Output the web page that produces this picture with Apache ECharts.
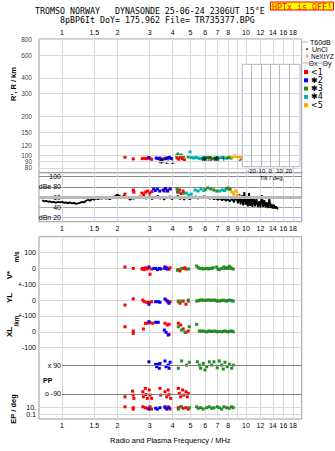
<!DOCTYPE html>
<html><head><meta charset="utf-8">
<script src="https://cdn.jsdelivr.net/npm/echarts@6/dist/echarts.min.js"></script>
<style>html,body{margin:0;padding:0;background:#fff}#c{width:335px;height:451px}</style>
</head><body><div id="c"></div>
<script>
// ---------- axes / ticks ----------
const freqRange = [0.75, 20.1];
const freqTicks = [1, 1.5, 2, 3, 4, 5, 6, 7, 8, 9, 10, 12, 14, 16, 18];
const freqLabelsOuter = [1, 1.5, 2, 3, 4, 5, 6, 7, 8, 10, 12, 14, 16, 18];
const freqLabelsMid = [1, 1.5, 2, 3, 4, 5, 6, 7, 8, 9, 10, 12, 14, 16, 18];
const heightRange = [73.1, 800];
const heightTicks = [80, 90, 100, 120, 150, 200, 300, 400, 600, 800];
const dbRange = [12.2, 107.8];
const dbTicks = [20, 40, 60, 80, 100];
const dbTickLabels = ['dBn 20', '40', '60', 'dBe 80', '100'];
const tiltTicks = [-20, -10, 0, 10, 20];
const rowTickLabels = ['0.1', '10.', '-100', '0', '+-100', '0', '+-100', '0', '100'];
const classNames = ['<1', '\u27312', '\u27313', '\u27314', '<5'];

// ---------- virtual heights (R', km) per class ----------
const heightRed = [[2.20,96.5],[2.44,93.5],[2.73,94],[2.80,94.5],[2.87,94],[2.94,95],[3.01,94],[3.07,93],[3.60,94],[3.70,95],[4.22,95],[4.32,93],[4.40,97],[4.52,94],[4.63,92]];
const heightBlue = [[2.97,96],[3.25,95],[3.32,94],[3.40,95],[3.48,93],[3.66,94],[3.75,95],[3.84,96],[3.92,94]];
const heightGreen = [[4.20,99],[4.27,102],[4.45,100],[4.58,98],[4.85,97],[6.05,95],[6.2,96],[6.4,95],[6.6,94],[6.8,95],[7.0,96],[7.9,95],[8.1,96],[8.3,95]];
const heightTeal = [[4.97,106],[5.05,96],[5.20,95],[5.35,96],[5.50,95],[5.65,94],[5.80,95],[5.95,96],[7.15,95],[7.4,96],[7.65,95]];
const heightOrange = [[8.40,97],[8.55,98],[8.70,99],[8.90,98],[9.10,97],[9.30,98],[9.50,96]];
const modeLabelText = ['\u273121', '\u27314', '\u27313', '<5'];
const modeLabelFreq = [3.33, 5.69, 6.62, 9.05];
const modeLabelHeight = [90, 92, 92, 91];

// ---------- amplitude (dB) ----------
const noiseFreq = [0.78,0.80,0.82,0.84,0.86,0.88,0.90,0.93,0.95,0.98,1.0,1.03,1.05,1.08,1.10,1.13,1.16,1.19,1.22,1.25,1.29,1.32,1.35,1.39,1.42,1.46,1.49,1.53,1.57,1.61,1.65,1.69,1.73,1.78,1.82,1.87,1.92,1.96,2.01,2.06,2.12,2.17,2.23,2.29,2.34,2.40,2.46,2.52,2.59,2.65,2.72,2.79,2.86,2.93,3.01,3.08,3.16,3.24,3.32,3.41,3.50,3.59,3.68,3.77,3.87,3.96,4.06,4.17,4.27,4.38,4.49,4.61,4.72,4.84,4.96,5.09,5.22,5.35,5.48,5.62,5.77,5.91,6.06,6.22,6.37,6.54,6.70,6.87,7.05,7.23,7.41,7.60,7.79,7.99,8.19,8.40,8.61,8.83,9.05,9.2,9.35,9.5,9.65,9.8,9.95,10.1,10.25,10.4,10.55,10.7,10.85,11.0,11.2,11.4,11.6,11.8,12.0,12.2,12.4,12.6,12.8,13.0,13.2,13.4,13.6,13.8,14.0,14.2,14.4,14.6,14.8,15.0];
const noiseDb = [54,52,53,51,52,50,51,49,51,50,51,49,50,48,50,48,49,47,48,49,51,50,53,55,53,57,55,58,56,58,57,59,57,58,56,59,61,63,65,62,60,63,58,60,55,58,57,60,58,62,59,63,57,60,62,56,60,58,63,57,61,55,60,58,62,56,60,59,63,56,61,55,60,58,56,60,58,62,57,60,59,62,58,60,57,59,56,58,55,58,54,57,53,56,52,58,50,62,48,66,46,64,44,70,45,60,42,68,43,56,41,62,42,58,41,52,40,64,41,54,40,50,39,58,39,47,38,45,38,42,38,38];
const ampRed = [[2.20,66],[2.44,74],[2.46,70],[2.72,68],[2.78,66],[2.85,70],[2.92,72],[3.0,68],[3.08,71],[3.6,72],[3.75,74],[4.25,70],[4.35,74],[4.45,67],[4.55,72]];
const ampBlue = [[3.15,76],[3.22,73],[3.30,76],[3.40,72],[3.55,74],[3.65,77],[3.75,72],[3.88,76]];
const ampGreen = [[4.22,76],[4.30,70],[4.6,68],[6.0,75],[6.2,78],[6.45,76],[6.7,74],[6.95,72],[7.8,76],[8.0,78],[8.2,75]];
const ampTeal = [[4.75,68],[4.9,64],[5.05,66],[5.3,74],[5.5,72],[5.7,76],[5.9,73],[7.2,72],[7.45,74],[7.65,73]];
const ampOrange = [[8.40,70],[8.6,66],[8.8,72],[9.0,64],[9.2,62],[9.4,60]];

// ---------- lower panel rows ----------
const vstarRed = [[2.20,9],[2.44,0],[2.72,-4],[2.75,0],[2.79,-8],[2.84,4],[2.89,-4],[2.93,0],[3.01,-37],[3.07,-4],[3.60,0],[3.71,4],[3.82,-4],[3.87,4],[4.29,-8],[4.38,-16],[4.53,0],[4.66,4],[4.72,-4]];
const vstarBlue = [[2.97,9],[3.16,0],[3.23,0],[3.30,-8],[3.38,0],[3.45,-4],[3.63,9],[3.68,0],[3.74,-4]];
const vstarGreen = [[4.25,-12],[4.47,0],[4.88,-4],[5.40,15],[5.51,4],[5.62,0],[5.74,0],[5.86,-4],[5.99,0],[6.12,0],[6.25,-4],[6.37,0],[6.51,0],[6.64,4],[6.93,9],[7.05,-4],[7.16,-8],[7.38,0],[7.59,9],[7.69,0],[7.86,4],[8.01,0],[8.12,13],[8.25,4],[8.36,0],[8.53,-4]];
const ylRed = [[2.20,-31],[2.44,8],[2.75,0],[2.80,-10],[2.89,-14],[2.98,-14],[3.07,-10],[3.68,0],[3.78,-14],[3.87,-10],[4.29,-10],[4.38,-20],[4.56,-6],[4.72,-26],[4.86,-6]];
const ylBlue = [[2.97,-26],[3.23,-10],[3.34,-10],[3.41,-14],[3.63,7],[3.74,-6],[3.82,-20]];
const ylGreen = [[4.29,-6],[4.47,-6],[4.86,0],[5.40,-6],[5.51,-4],[5.62,0],[5.74,0],[5.86,0],[5.99,-2],[6.12,0],[6.25,0],[6.37,0],[6.51,-2],[6.64,0],[6.80,0],[6.93,-6],[7.05,-4],[7.22,-6],[7.38,-2],[7.53,0],[7.69,-4],[7.86,-6],[8.01,-2],[8.18,0],[8.36,-4],[8.53,-6]];
const xlRed = [[2.20,32],[2.44,5],[2.44,-10],[2.77,18],[2.84,54],[2.91,54],[3.01,57],[3.11,54],[3.63,54],[3.74,43],[3.82,48],[3.82,-16],[4.29,54],[4.42,43],[4.56,18],[4.72,-3],[4.86,5]];
const xlBlue = [[2.97,64],[3.23,60],[3.34,60],[3.60,11],[3.68,-3],[3.78,-20]];
const xlGreen = [[4.29,32],[4.47,11],[4.66,-3],[4.92,32],[5.40,47],[5.58,5],[5.72,4],[5.86,5],[5.99,2],[6.12,0],[6.25,4],[6.37,5],[6.51,2],[6.70,5],[6.85,3],[6.98,0],[7.15,2],[7.38,0],[7.53,3],[7.69,5],[7.86,2],[8.01,0],[8.18,3],[8.36,5],[8.53,0]];
const ppxBlue = [[2.97,113],[3.23,97],[3.27,82],[3.34,97],[3.38,72],[3.41,103],[3.63,118],[3.68,82],[3.78,92],[3.82,72],[3.87,110]];
const ppxGreen = [[4.29,72],[4.47,118],[4.76,92],[4.92,110],[5.44,113],[5.58,92],[5.67,72],[5.86,103],[5.99,61],[6.12,82],[6.32,113],[6.51,92],[6.70,113],[6.98,75],[7.16,118],[7.38,92],[7.53,67],[7.69,110],[7.91,82],[8.12,97],[8.36,72],[8.53,92]];
const ppoRed = [[2.20,-108],[2.42,-72],[2.44,-97],[2.46,-118],[2.75,-76],[2.77,-108],[2.84,-55],[2.86,-93],[2.91,-118],[2.98,-65],[3.01,-97],[3.07,-118],[3.41,-55],[3.44,-97],[3.63,-76],[3.71,-108],[3.78,-65],[3.82,-93],[3.90,-118],[4.29,-55],[4.34,-86],[4.42,-108],[4.53,-65],[4.60,-97],[4.72,-76],[4.80,-108],[4.86,-86]];
const epRed = [[2.20,12],[2.44,7],[2.44,3],[2.75,12],[2.84,7],[2.91,5],[3.01,12],[3.07,3],[3.63,7],[3.78,12],[3.87,3],[4.29,7],[4.42,12],[4.56,5],[4.72,7],[4.86,3]];
const epBlue = [[2.97,3],[3.23,5],[3.30,3],[3.41,7],[3.63,12],[3.71,3],[3.82,7]];
const epGreen = [[4.29,3],[4.47,12],[4.92,7],[5.40,12],[5.51,5],[5.67,7],[5.86,3],[6.12,7],[6.32,12],[6.51,5],[6.70,7],[6.98,12],[7.16,7],[7.38,3],[7.59,12],[7.86,7],[8.12,5],[8.36,12],[8.53,7]];

// ---------- layout / style ----------
const L = Math.log10;
const X0 = L(freqRange[0]), X1 = L(freqRange[1]);
const COL = {red:'#ff0000', blue:'#0000ff', green:'#228b22', teal:'#00b2b2', orange:'#ffa500'};
const FONT = 'Liberation Sans';
const lab = {fontFamily: FONT, fontSize: 7, color: '#000', showMinLabel: true, showMaxLabel: true};
const GRID = '#d8d8d8', FRAME = '#9a9a9a';
// lower panel: one shared virtual scale, each row has its own base line
const rowBase = {vstar: 900, yl: 700, xl: 500, pp: 198, ep: 25};
const rowTickPos = [-23, 25, 400, 500, 600, 700, 800, 900, 1000];
const epPerDecade = 24;

const fmtFreq = v => String(Math.round(Math.pow(10, v) * 10) / 10);

function freqAxis(gi, pos, labels, extra) {
  return Object.assign({
    type: 'value', gridIndex: gi, position: pos, min: X0, max: X1,
    axisLine: {show: false}, axisTick: {show: false, customValues: freqTicks.map(L)},
    axisLabel: Object.assign({customValues: labels.map(L), formatter: fmtFreq, margin: 3}, lab),
    splitLine: {show: true, lineStyle: {color: GRID, width: 1}}
  }, extra || {});
}

function sc(name, color, data, xi, yi, fy, z) {
  return {
    type: 'scatter', name: name, xAxisIndex: xi, yAxisIndex: yi,
    symbol: 'rect', symbolSize: 3, itemStyle: {color: color, opacity: 1},
    data: data.map(d => [L(d[0]), fy(d[1])]), z: z || 3, silent: true
  };
}
const fH = v => L(v);
const fId = v => v;
const fV = v => rowBase.vstar + v;
const fYL = v => rowBase.yl + v;
const fXL = v => rowBase.xl + v;
const fPP = v => rowBase.pp + v;
const fEP = v => rowBase.ep + (L(v) - 1) * epPerDecade;

const series = [
  // height tick labels and grid lines, placed through the height scale
  {
    type: 'scatter', name: 'heightTicks', xAxisIndex: 0, yAxisIndex: 0, symbolSize: 0, silent: true, clip: false, z: 1,
    data: heightTicks.map(h => ({value: [X0, L(h)], name: String(h)})),
    label: {show: true, position: 'left', distance: 7, formatter: '{b}', fontFamily: FONT, fontSize: 6.5, color: '#000'},
    labelLayout: {hideOverlap: false},
    markLine: {symbol: 'none', silent: true, animation: false, label: {show: false},
      lineStyle: {color: GRID, width: 1, type: 'solid'}, data: heightTicks.map(h => ({yAxis: L(h)}))}
  },
  sc(classNames[0], COL.red, heightRed, 0, 0, fH),
  sc(classNames[1], COL.blue, heightBlue, 0, 0, fH),
  sc(classNames[2], COL.green, heightGreen, 0, 0, fH),
  sc(classNames[3], COL.teal, heightTeal, 0, 0, fH),
  sc(classNames[4], COL.orange, heightOrange, 0, 0, fH),
  {
    type: 'scatter', name: 'modeLabels', xAxisIndex: 0, yAxisIndex: 0, symbolSize: 0, silent: true, z: 4,
    data: modeLabelText.map((t, i) => ({value: [L(modeLabelFreq[i]), L(modeLabelHeight[i])], name: t})),
    label: {show: true, position: 'right', distance: 0, formatter: '{b}', fontFamily: 'DejaVu Sans', fontSize: 8, color: '#000'}
  },
  {
    type: 'line', name: 'amp', xAxisIndex: 1, yAxisIndex: 1, showSymbol: false, silent: true, z: 2,
    lineStyle: {color: '#000', width: 1.8}, animation: false,
    data: noiseFreq.map((f, i) => [L(f), noiseDb[i]]),
    markLine: {symbol: 'none', silent: true, animation: false, label: {show: false},
      lineStyle: {color: '#b8b8b8', width: 3, type: 'solid'}, data: [{yAxis: 60}]}
  },
  sc(classNames[0], COL.red, ampRed, 1, 1, fId),
  sc(classNames[1], COL.blue, ampBlue, 1, 1, fId),
  sc(classNames[2], COL.green, ampGreen, 1, 1, fId),
  sc(classNames[3], COL.teal, ampTeal, 1, 1, fId),
  sc(classNames[4], COL.orange, ampOrange, 1, 1, fId),
  sc(classNames[0], COL.red, vstarRed, 2, 2, fV),
  sc(classNames[1], COL.blue, vstarBlue, 2, 2, fV),
  sc(classNames[2], COL.green, vstarGreen, 2, 2, fV),
  sc(classNames[0], COL.red, ylRed, 2, 2, fYL),
  sc(classNames[1], COL.blue, ylBlue, 2, 2, fYL),
  sc(classNames[2], COL.green, ylGreen, 2, 2, fYL),
  sc(classNames[0], COL.red, xlRed, 2, 2, fXL),
  sc(classNames[1], COL.blue, xlBlue, 2, 2, fXL),
  sc(classNames[2], COL.green, xlGreen, 2, 2, fXL),
  Object.assign(sc(classNames[1], COL.blue, ppxBlue, 2, 2, fPP), {
    markLine: {symbol: 'none', silent: true, animation: false,
      lineStyle: {color: '#808080', width: 1, type: 'solid'},
      label: {show: true, position: 'start', formatter: '{b}', distance: 1, fontFamily: FONT, fontSize: 7, color: '#000'},
      data: [
        [{name: 'x 90', coord: [0, fPP(90)]}, {coord: [X1, fPP(90)]}],
        [{name: 'o -90', coord: [0, fPP(-90)]}, {coord: [X1, fPP(-90)]}]
      ]}
  }),
  sc(classNames[2], COL.green, ppxGreen, 2, 2, fPP),
  sc(classNames[0], COL.red, ppoRed, 2, 2, fPP),
  sc(classNames[0], COL.red, epRed, 2, 2, fEP),
  sc(classNames[1], COL.blue, epBlue, 2, 2, fEP),
  sc(classNames[2], COL.green, epGreen, 2, 2, fEP)
];

const rot = Math.PI / 2;
function txt(x, y, text, size, extra, rotation) {
  return {type: 'text', x: x, y: y, rotation: rotation || 0, silent: true, z: 10,
    style: Object.assign({text: text, fontFamily: FONT, fontSize: size, fill: '#000', align: 'left', verticalAlign: 'middle'}, extra || {})};
}
function seg(x1, y1, x2, y2, color) {
  return {type: 'line', silent: true, z: 10, shape: {x1: x1, y1: y1, x2: x2, y2: y2}, style: {stroke: color, lineWidth: 1}};
}

const option = {
  animation: false,
  backgroundColor: '#fff',
  title: [
    {text: 'TROMSO NORWAY\u00a0\u00a0\u00a0DYNASONDE 25-06-24 2306UT 15\u00b0E', left: 35, top: 7, padding: 0,
      textStyle: {fontFamily: 'DejaVu Sans Mono', fontSize: 8.3, fontWeight: 'normal', color: '#000'}},
    {text: '8pBP6It DoY= 175.962 File= TR735377.BPG', left: 60, top: 15.5, padding: 0,
      textStyle: {fontFamily: 'DejaVu Sans Mono', fontSize: 8.3, fontWeight: 'normal', color: '#000'}},
    {text: 'HPTx is OFF!', right: 1, top: 1.5, padding: [1, 2, 0, 2], backgroundColor: '#ffff00', borderColor: '#ff0000', borderWidth: 1,
      textStyle: {fontFamily: 'DejaVu Sans Mono', fontSize: 8.3, fontWeight: 'normal', color: '#ff0000'}}
  ],
  legend: {
    data: classNames, orient: 'vertical', left: 304, top: 68, padding: 0,
    itemWidth: 4, itemHeight: 4, itemGap: 0.3, icon: 'rect', selectedMode: false,
    textStyle: {fontFamily: 'DejaVu Sans', fontSize: 8, color: '#000', lineHeight: 8, padding: [0, 0, 0, -2]}
  },
  grid: [
    {left: 39, right: 33.3, top: 39, height: 133.7, show: true, borderColor: FRAME, borderWidth: 1},
    {left: 39, right: 33.3, top: 172.7, height: 49, show: true, borderColor: FRAME, borderWidth: 1},
    {left: 39, right: 33.3, top: 236.7, height: 182.3, show: true, borderColor: FRAME, borderWidth: 1},
    {left: 242.3, right: 35, top: 64.3, height: 102.4, show: true, borderColor: '#b4b4cc', borderWidth: 1, backgroundColor: '#fff', z: 5}
  ],
  xAxis: [
    freqAxis(0, 'top', freqLabelsOuter),
    freqAxis(1, 'bottom', freqLabelsMid),
    freqAxis(2, 'bottom', freqLabelsOuter, {name: 'Radio and Plasma Frequency / MHz', nameLocation: 'middle', nameGap: 17,
      nameTextStyle: {fontFamily: FONT, fontSize: 7.5, color: '#000'}}),
    {type: 'value', gridIndex: 3, min: -30, max: 32, z: 6,
      axisLine: {show: false}, axisTick: {show: false, customValues: tiltTicks},
      axisLabel: {customValues: tiltTicks, fontFamily: FONT, fontSize: 6, color: '#000', margin: 1, showMinLabel: true, showMaxLabel: true},
      splitLine: {show: true, lineStyle: {color: '#b4b4cc'}},
      name: 'Tilt / deg', nameLocation: 'middle', nameGap: 8, nameTextStyle: {fontFamily: FONT, fontSize: 6, color: '#000'}}
  ],
  yAxis: [
    {type: 'value', gridIndex: 0, min: L(heightRange[0]), max: L(heightRange[1]),
      axisLine: {show: false}, axisTick: {show: false}, axisLabel: {show: false}, splitLine: {show: false}},
    {type: 'value', gridIndex: 1, min: dbRange[0], max: dbRange[1], offset: -23,
      axisLine: {show: false}, axisTick: {show: false, customValues: dbTicks},
      axisLabel: Object.assign({customValues: dbTicks, formatter: v => dbTickLabels[dbTicks.indexOf(Math.round(v))], margin: 1}, lab),
      splitLine: {show: true, lineStyle: {color: ['#b9b9ec', '#a4a4a4', '#a4a4a4', '#8a8a8a', '#8a8a8a']}}},
    {type: 'value', gridIndex: 2, min: -50, max: 1100,
      axisLine: {show: false}, axisTick: {show: false, customValues: rowTickPos},
      axisLabel: Object.assign({customValues: rowTickPos, formatter: v => rowTickLabels[rowTickPos.indexOf(Math.round(v))], margin: 3}, lab),
      splitLine: {show: true, lineStyle: {color: [GRID, GRID, GRID, '#e6cfe0', GRID, '#e6cfe0', GRID, GRID, GRID]}}},
    {type: 'value', gridIndex: 3, min: 0, max: 1, show: false}
  ],
  series: series,
  graphic: [
    txt(13, 84, "R', R / km", 7.5, {fontWeight: 'bold', align: 'center'}, rot),
    txt(9, 275, 'V*', 8, {fontWeight: 'bold', align: 'center'}, rot),
    txt(16, 257, 'm/s', 6.5, {fontWeight: 'bold', align: 'center'}, rot),
    txt(9, 298, 'YL', 8, {fontWeight: 'bold', align: 'center'}, rot),
    txt(9, 332, 'XL', 8, {fontWeight: 'bold', align: 'center'}, rot),
    txt(16, 321, '/km', 6.5, {fontWeight: 'bold', align: 'center'}, rot),
    txt(43, 380, 'PP', 7, {fontWeight: 'bold'}),
    txt(13, 409, 'EP / deg', 7.5, {fontWeight: 'bold', align: 'center'}, rot),
    // line-style legend
    seg(303, 42, 308, 42, '#b0b0b0'), txt(310, 42, 'T60dB', 7),
    {type: 'circle', silent: true, z: 10, shape: {cx: 307, cy: 49, r: 0.8}, style: {fill: '#000'}}, txt(312, 49, 'UnCl', 7),
    seg(305, 56, 309, 56, '#ff88b8'), seg(307, 54, 307, 58, '#ff88b8'), txt(311, 56, 'NeXtYZ', 6.5),
    seg(303, 63, 308, 63, '#ff9a9a'), txt(308.5, 63, '\u0398x', 7), seg(316, 63, 322, 63, '#9a9aff'), txt(322.5, 63, '\u0398y', 7)
  ]
};
const chart = echarts.init(document.getElementById('c'), null, {renderer: 'svg', width: 335, height: 451});
chart.setOption(option);
</script>
</body></html>
